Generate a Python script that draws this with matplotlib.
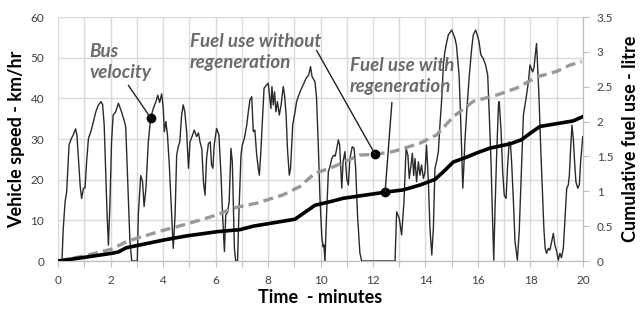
import numpy as np
import matplotlib.pyplot as plt

# ── Data ──────────────────────────────────────────────────────────
# bus velocity trace: time (min), speed (km/h)
vel_t = [0.0, 0.15, 0.2, 0.27, 0.33, 0.42, 0.5, 0.58, 0.67, 0.72, 0.77, 0.85, 0.9, 0.97,
         1.03, 1.09, 1.16, 1.25, 1.35, 1.44, 1.54, 1.64, 1.7, 1.76, 1.81, 1.87, 1.92, 1.98,
         2.04, 2.1, 2.2, 2.3, 2.42, 2.53, 2.58, 2.68, 2.74, 2.81, 3.02, 3.06, 3.15, 3.22,
         3.28, 3.35, 3.44, 3.53, 3.63, 3.73, 3.8, 3.87, 3.95, 4.01, 4.05, 4.11, 4.17, 4.24,
         4.33, 4.39, 4.46, 4.52, 4.58, 4.64, 4.71, 4.77, 4.83, 4.9, 4.97, 5.03, 5.1, 5.19,
         5.28, 5.35, 5.41, 5.48, 5.54, 5.6, 5.66, 5.73, 5.8, 5.85, 5.9, 5.95, 6.04, 6.13,
         6.21, 6.27, 6.34, 6.39, 6.46, 6.52, 6.59, 6.64, 6.72, 6.77, 6.84, 6.89, 6.97, 7.02,
         7.1, 7.19, 7.25, 7.31, 7.38, 7.44, 7.5, 7.57, 7.63, 7.67, 7.72, 7.8, 7.85, 7.95,
         8.01, 8.07, 8.11, 8.15, 8.2, 8.25, 8.3, 8.36, 8.43, 8.5, 8.58, 8.63, 8.69, 8.74,
         8.81, 8.86, 8.94, 9.03, 9.09, 9.22, 9.34, 9.45, 9.55, 9.62, 9.68, 9.79, 9.85, 9.92,
         9.98, 10.05, 10.1, 10.13, 10.17, 10.23, 10.3, 10.36, 10.43, 10.5, 10.56, 10.62,
         10.68, 10.73, 10.78, 10.81, 10.86, 10.93, 11.0, 11.06, 11.12, 11.21, 11.28, 11.34,
         11.41, 11.5, 11.57, 12.84, 12.9, 13.0, 13.09, 13.18, 13.26, 13.33, 13.38, 13.45,
         13.5, 13.55, 13.6, 13.66, 13.73, 13.79, 13.85, 13.92, 13.98, 14.04, 14.11, 14.17,
         14.24, 14.3, 14.36, 14.42, 14.49, 14.55, 14.62, 14.68, 14.74, 14.81, 14.87, 15.0,
         15.06, 15.12, 15.18, 15.28, 15.33, 15.38, 15.42, 15.47, 15.5, 15.57, 15.66, 15.76,
         15.82, 15.91, 15.97, 16.04, 16.11, 16.2, 16.29, 16.37, 16.43, 16.5, 16.55, 16.6,
         16.65, 16.71, 16.78, 16.81, 16.88, 16.94, 17.0, 17.07, 17.13, 17.19, 17.24, 17.28,
         17.35, 17.41, 17.5, 17.57, 17.66, 17.73, 17.79, 17.85, 17.92, 17.98, 18.03, 18.08,
         18.13, 18.2, 18.23, 18.27, 18.33, 18.39, 18.45, 18.51, 18.56, 18.61, 18.68, 18.74,
         18.81, 18.87, 18.93, 19.0, 19.06, 19.12, 19.18, 19.25, 19.32, 19.38, 19.44, 19.48,
         19.53, 19.58, 19.63, 19.68, 19.73, 19.8, 19.86, 19.91, 19.99]
vel_v = [0, 0, 8, 14.6, 17, 28.5, 30, 31, 32.5, 31, 26, 18, 15.4, 17.9,
         18, 24.4, 30.2, 31.8, 34.3, 36.7, 38.4, 39.2, 38.4, 33.4, 23.6, 11.3, 3.9, 14.6,
         29.3, 35.9, 36.7, 38.8, 36.7, 34.3, 33, 15.4, 4.8, 0, 0, 11.3, 21, 19.5,
         13.4, 17.9, 29.3, 35.2, 37.5, 39.2, 40.8, 39, 41.1, 37.5, 31.8, 34.3, 31, 23.6,
         11.3, 3.1, 11.3, 26, 28.1, 29.3, 35.9, 38.4, 36.7, 31.8, 22.8, 29.3, 30.5, 32.2,
         30.6, 31.5, 29.3, 27.5, 19.5, 16.2, 25.2, 28.9, 29.3, 23.6, 22.8, 28.5, 32.6, 31,
         21.1, 11.3, 2.3, 11.3, 12, 14.6, 27.7, 24.4, 3.1, 0, 0, 11.3, 26, 28.5,
         30.2, 33.4, 36.7, 39.6, 40.4, 31.8, 32.2, 26, 22.8, 21.1, 26, 35.9, 42.5, 43.3,
         43.7, 40, 37.5, 42.9, 38.4, 41.6, 36.7, 39.2, 35.9, 38.4, 42.9, 40.8, 35.9, 27.7,
         21.1, 22.8, 33.4, 36.7, 39.2, 41.6, 43.3, 44.9, 45.7, 47.8, 45.3, 44.1, 40, 27.7,
         15.4, 6, 3.5, 4, 0, 11.3, 22, 23.2, 25.2, 26, 25.8, 27.7,
         29.8, 28.5, 22, 17.9, 24.4, 26.9, 20.3, 18.7, 25.2, 28.1, 27.7, 22.8,
         11.3, 2, 0, 0, 12.1, 10.5, 6.4, 14.6, 27.7, 26, 20.3, 23.6,
         26.5, 21, 25.2, 19.5, 24.4, 21.1, 23.6, 20.3, 21.8, 28.5, 19.5, 8,
         1.5, 8, 22.8, 24.4, 26.9, 33.4, 40, 48.2, 51.5, 53.9, 55.6, 56.8,
         55.8, 54.8, 53, 45.7, 36.7, 26.9, 17.9, 24.4, 29.3, 36.7, 44.9, 52.3,
         55.6, 56.8, 55.6, 53.9, 50.7, 49.8, 48.2, 45.7, 35.9, 23.6, 11.3, 0.2,
         13, 26, 38.4, 39.2, 31.8, 22, 16.2, 15.4, 23.6, 29.3, 28.5, 24.4,
         14.6, 4.8, 0.2, 7.2, 23.6, 35.9, 38.4, 40.8, 44.1, 48.2, 47.4, 46.5,
         47.4, 51.5, 53.5, 48.2, 39.2, 27.7, 17.9, 8, 3.1, 1.9, 3.1, 2.7,
         4.8, 6.8, 3.9, 2.3, 0.2, 1.9, 0.8, 3.1, 11.3, 17.9, 18.7, 21.1,
         27.7, 33.4, 30.2, 24.4, 19.5, 17.9, 18.7, 24.4, 30.6]

# cumulative fuel use with regeneration (litre)
regen_t = [0, 0.96, 2.04, 2.3, 2.6, 3.12, 4.01, 4.9, 6.05, 6.93, 7.44, 8.08, 9.03, 9.79,
           10.36, 10.87, 12.52, 13.15, 13.79, 14.36, 14.68, 15.06, 15.57, 15.95, 16.46,
           17.22, 17.66, 17.98, 18.36, 19.0, 19.63, 19.99]
regen_f = [0, 0.05, 0.11, 0.13, 0.19, 0.23, 0.30, 0.36, 0.42, 0.45, 0.50, 0.54, 0.60, 0.80,
           0.85, 0.90, 0.99, 1.02, 1.09, 1.17, 1.28, 1.42, 1.49, 1.55, 1.62,
           1.68, 1.74, 1.83, 1.93, 1.97, 2.01, 2.07]

# cumulative fuel use without regeneration (litre)
noregen_t = [0, 0.96, 2.04, 2.62, 3.12, 4.01, 4.9, 6.05, 6.68, 7.57, 8.58, 9.22, 9.79,
             10.36, 11.5, 12.08, 12.77, 13.79, 14.43, 15.06, 15.82, 16.71, 17.47, 18.24,
             19.0, 19.5, 19.95]
noregen_f = [0, 0.07, 0.17, 0.28, 0.34, 0.44, 0.53, 0.66, 0.76, 0.83, 0.95, 1.07, 1.26,
             1.33, 1.52, 1.53, 1.57, 1.69, 1.81, 2.07, 2.29, 2.38, 2.48, 2.64,
             2.72, 2.81, 2.86]

x_ticks = list(range(0, 21))
x_labels = [str(t) if t % 2 == 0 else "" for t in x_ticks]
y_ticks = [0, 10, 20, 30, 40, 50, 60]
y2_ticks = [0, 0.5, 1, 1.5, 2, 2.5, 3, 3.5]
y2_labels = ["0", "0.5", "1", "1.5", "2", "2.5", "3", "3.5"]

# annotation anchor times (min)
t_bus, t_without, t_with = 3.53, 12.08, 12.46

# ── Style ─────────────────────────────────────────────────────────
FONT = "Lato"
TICK_C = "#404040"
GRID_C = "#d9d9d9"
NOTE_C = "#6b6b6b"

fig = plt.figure(figsize=(6.41, 3.15), dpi=100)
ax = fig.add_axes([0.0905, 0.1714, 0.819, 0.7746])
ax2 = ax.twinx()

ax.plot(vel_t, vel_v, color="#2a2a2a", lw=1.0, zorder=3)
ax2.plot(noregen_t, noregen_f, color="#999999", lw=2.4, dashes=(3, 1.6), zorder=4)
ax2.plot(regen_t, regen_f, color="black", lw=2.6, zorder=5)

ax.set_xlim(0, 20)
ax.set_ylim(0, 60)
ax2.set_ylim(0, 3.5)
ax.set_xticks(x_ticks)
ax.set_xticklabels(x_labels)
ax.set_yticks(y_ticks)
ax2.set_yticks(y2_ticks)
ax2.set_yticklabels(y2_labels)
ax.grid(True, color=GRID_C, lw=1.0, zorder=0)
ax.set_axisbelow(True)

for a in (ax, ax2):
    for s in ("top", "left"):
        a.spines[s].set_visible(False)
    a.spines["bottom"].set_color("#bfbfbf")
    a.spines["right"].set_color("#bfbfbf")
ax.tick_params(axis="x", length=4, color="#bfbfbf", pad=6, labelsize=8.5, labelcolor=TICK_C)
ax.tick_params(axis="y", length=0, pad=10, labelsize=8.5, labelcolor=TICK_C)
ax2.tick_params(axis="y", length=4, color="#bfbfbf", pad=6, labelsize=8.5, labelcolor=TICK_C)
for lab in ax.get_xticklabels() + ax.get_yticklabels() + ax2.get_yticklabels():
    lab.set_family(FONT)

ax.set_xlabel("Time  - minutes", family=FONT, weight="bold", fontsize=13, labelpad=2)
ax.set_ylabel("Vehicle speed - km/hr", family=FONT, weight="bold", fontsize=13, labelpad=4)
ax2.set_ylabel("Cumulative fuel use - litre", family=FONT, weight="bold", fontsize=13,
               labelpad=6)

# ── Annotations ───────────────────────────────────────────────────
v_bus = np.interp(t_bus, vel_t, vel_v)
f_without = np.interp(t_without, noregen_t, noregen_f)
f_with = np.interp(t_with, regen_t, regen_f)

ax.plot([t_bus], [v_bus], "o", color="black", ms=6, zorder=6)
ax2.plot([t_without], [f_without], "o", color="black", ms=6, zorder=6)
ax2.plot([t_with], [f_with], "o", color="black", ms=6, zorder=6)

line_kw = dict(arrowstyle="-", color="#222222", lw=1.0, shrinkA=0, shrinkB=0)
ax.annotate("", xy=(t_bus, v_bus), xytext=(2.68, 43.2), arrowprops=line_kw, zorder=6)
ax2.annotate("", xy=(t_without, f_without), xytext=(9.85, 51.8), textcoords=ax.transData,
             arrowprops=line_kw, zorder=6)
ax2.annotate("", xy=(t_with, f_with), xytext=(12.72, 39.0), textcoords=ax.transData,
             arrowprops=line_kw, zorder=6)

note_kw = dict(family=FONT, weight="bold", style="italic", fontsize=13.5, color=NOTE_C,
               ha="left", va="center", linespacing=1.28, zorder=7)
ax.text(1.18, 48.9, "Bus\nvelocity", **note_kw)
ax.text(5.03, 51.4, "Fuel use without\nregeneration", **note_kw)
ax.text(11.12, 45.4, "Fuel use with\nregeneration", **note_kw)

fig.savefig("out.png", dpi=100)
